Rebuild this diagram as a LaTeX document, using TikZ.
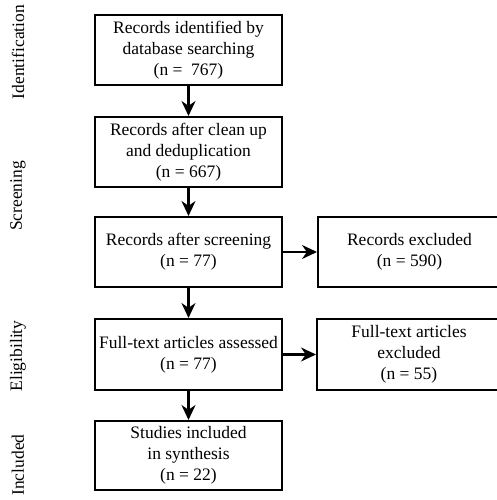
\documentclass[tikz,border=0pt]{standalone}
\usepackage{fontspec}
\setmainfont{Liberation Serif}[Ligatures=TeX]
\usetikzlibrary{arrows.meta}
\begin{document}
\begin{tikzpicture}[x=1pt,y=-1pt,
  box/.style={draw=black,line width=2pt,align=center,inner sep=1pt,
    font=\rmfamily\fontsize{17.5}{21}\selectfont},
  phase/.style={rotate=90,font=\rmfamily\fontsize{17.5}{21}\selectfont,inner sep=0pt},
  arr/.style={line width=2.4pt,-{Stealth[length=15pt,width=14pt]}}]
\useasboundingbox (0,0) rectangle (497,500);
\clip (0,0) rectangle (497,500);
\node[box,minimum width=187pt,minimum height=70pt] (b1) at (188.5,50) {Records identified by\\database searching\\(n = \ 767)};
\node[box,minimum width=187pt,minimum height=70pt] (b2) at (188.5,152) {Records after clean up\\and deduplication\\(n = 667)};
\node[box,minimum width=187pt,minimum height=70pt] (b3) at (188.5,252) {Records after screening\\(n = 77)};
\node[box,minimum width=187pt,minimum height=71pt] (b4) at (188.5,354.5) {Full-text articles assessed\\(n = 77)};
\node[box,minimum width=187pt,minimum height=69pt] (b5) at (188.5,455.5) {Studies included\\in synthesis\\(n = 22)};
\node[box,minimum width=183pt,minimum height=70pt] (r3) at (409.5,252) {Records excluded\\(n = 590)};
\node[box,minimum width=184pt,minimum height=71pt] (r4) at (409,354.5) {Full-text articles\\excluded\\(n = 55)};
\node[phase] (p1) at (18,52) {Identification};
\node[phase] (p2) at (18,196) {Screening};
\node[phase] (p3) at (18,356) {Eligibility};
\node[phase] (p4) at (18,465) {Included};
\draw[arr] (b1) -- (b2);
\draw[arr] (b2) -- (b3);
\draw[arr] (b3) -- (b4);
\draw[arr] (b4) -- (b5);
\draw[arr] (b3) -- (r3);
\draw[arr] (b4) -- (r4);
\end{tikzpicture}
\end{document}
